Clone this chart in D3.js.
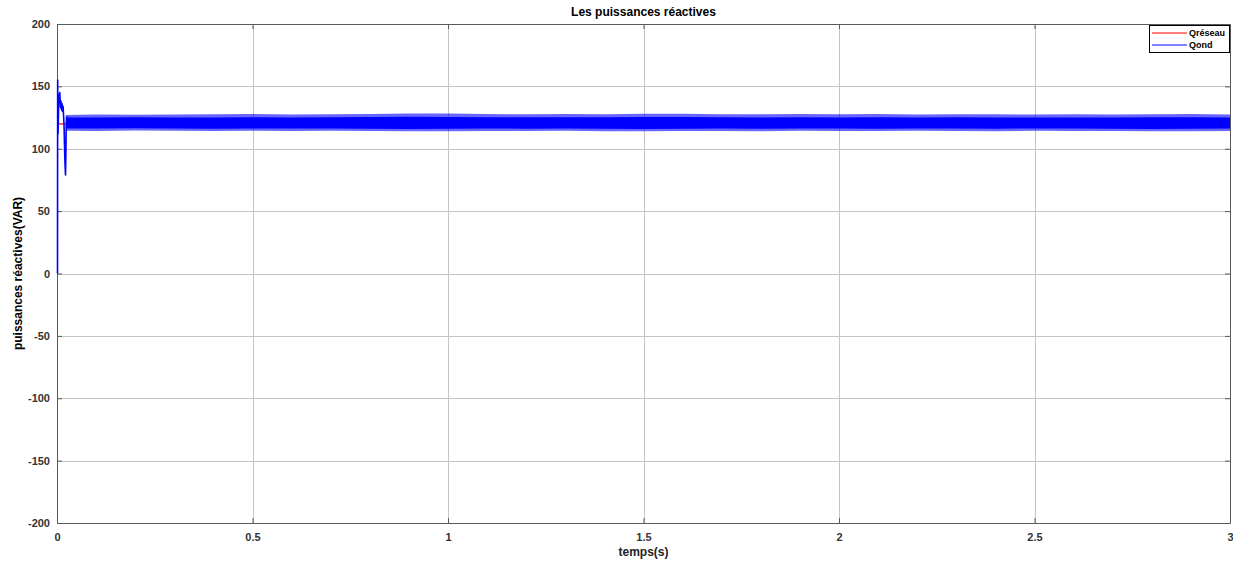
<!DOCTYPE html>
<html>
<head>
<meta charset="utf-8">
<script src="https://cdn.jsdelivr.net/npm/d3@7"></script>
<style>
  html, body { margin: 0; padding: 0; background: #fff; }
  svg { display: block; font-family: "Liberation Sans", Arial, sans-serif; }
</style>
</head>
<body>
<svg id="chart" width="1233" height="563"></svg>
<script>
// ---- data ----
const title = "Les puissances réactives";
const xLabel = "temps(s)";
const yLabel = "puissances réactives(VAR)";
const xTicks = [0, 0.5, 1, 1.5, 2, 2.5, 3];
const yTicks = [-200, -150, -100, -50, 0, 50, 100, 150, 200];
const seriesNames = ["Qréseau", "Qond"];

// Qréseau: reference reactive power (constant)
const qReseauT = [0, 3];
const qReseauV = [120, 120];

// Qond start-up transient
const transT = [0, 0.0004, 0.0008, 0.0014, 0.002, 0.003, 0.0045, 0.0058, 0.0066, 0.0078, 0.009, 0.0105, 0.0118, 0.013, 0.0142, 0.0155, 0.0168, 0.018, 0.0192, 0.0205, 0.0214, 0.0222, 0.0232];
const transV = [0, 155, 128, 112, 121, 137, 143, 145, 139, 133, 138, 131, 136, 130, 134, 127, 118, 102, 88, 79, 95, 118, 126];

// Qond steady-state ripple band: envelope
const bandT = [0.023, 0.1, 0.2, 0.3, 0.4, 0.5, 0.6, 0.7, 0.8, 0.9, 1.0, 1.1, 1.2, 1.3, 1.4, 1.5, 1.6, 1.7, 1.8, 1.9, 2.0, 2.1, 2.2, 2.3, 2.4, 2.5, 2.6, 2.7, 2.8, 2.9, 3.0];
const bandUpper = [127, 127.5, 127.3, 127.4, 127.6, 127.8, 127.4, 127.6, 127.9, 128.3, 128.2, 127.8, 127.7, 127.9, 127.6, 128.1, 128.0, 127.7, 127.6, 127.8, 127.6, 127.8, 127.5, 127.7, 127.6, 127.5, 127.6, 127.4, 127.7, 127.8, 127.5];
const bandLower = [114.5, 114.3, 114.6, 114.4, 114.2, 114.5, 114.3, 114.4, 114.2, 114.0, 114.1, 114.3, 114.2, 114.4, 114.1, 114.0, 114.2, 114.3, 114.1, 114.4, 114.3, 114.2, 114.4, 114.3, 114.1, 114.4, 114.3, 114.2, 114.0, 114.1, 114.3];
const coreUpper = [125, 125, 125.2, 125, 125.1, 125.2, 125, 125.2, 125.4, 125.6, 125.5, 125.3, 125.2, 125.3, 125.2, 125.5, 125.4, 125.2, 125.1, 125.3, 125.1, 125.3, 125.1, 125.2, 125.1, 125, 125.1, 125, 125.2, 125.3, 125];
const coreLower = [116.3, 116.2, 116.4, 116.3, 116.1, 116.3, 116.2, 116.3, 116.1, 115.9, 116, 116.2, 116.1, 116.2, 116, 115.9, 116.1, 116.2, 116, 116.3, 116.2, 116.1, 116.3, 116.2, 116, 116.3, 116.2, 116.1, 115.9, 116, 116.2];

// ---- layout ----
const svg = d3.select("#chart");
const m = { left: 57, right: 1230, top: 24, bottom: 523 };
const x = d3.scaleLinear().domain([0, 3]).range([m.left, m.right]);
const y = d3.scaleLinear().domain([-200, 200]).range([m.bottom, m.top]);
const pw = m.right - m.left, ph = m.bottom - m.top;

svg.append("rect").attr("x", m.left).attr("y", m.top).attr("width", pw).attr("height", ph).attr("fill", "#fff");

// grid
const g = svg.append("g");
g.selectAll(".gx").data(xTicks.slice(1, -1)).join("line")
  .attr("x1", d => Math.round(x(d)) + 0.5).attr("x2", d => Math.round(x(d)) + 0.5)
  .attr("y1", m.top).attr("y2", m.bottom).attr("stroke", "#c4c4c4").attr("stroke-width", 1);
g.selectAll(".gy").data(yTicks.slice(1, -1)).join("line")
  .attr("y1", d => Math.round(y(d)) + 0.5).attr("y2", d => Math.round(y(d)) + 0.5)
  .attr("x1", m.left).attr("x2", m.right).attr("stroke", "#c4c4c4").attr("stroke-width", 1);

// axes (MATLAB style: inward ticks, box)
const axisColor = "#5a5a5a";
const fontCol = "#333";
const fmt = d => String(d);
const xAxis = svg.append("g").attr("transform", `translate(0,${m.bottom})`)
  .call(d3.axisBottom(x).tickValues(xTicks).tickSizeInner(-5).tickSizeOuter(0).tickPadding(10).tickFormat(fmt));
const xAxisTop = svg.append("g").attr("transform", `translate(0,${m.top})`)
  .call(d3.axisTop(x).tickValues(xTicks).tickSizeInner(-5).tickSizeOuter(0).tickFormat(""));
const yAxis = svg.append("g").attr("transform", `translate(${m.left},0)`)
  .call(d3.axisLeft(y).tickValues(yTicks).tickSizeInner(-5).tickSizeOuter(0).tickPadding(7).tickFormat(fmt));
const yAxisRight = svg.append("g").attr("transform", `translate(${m.right},0)`)
  .call(d3.axisRight(y).tickValues(yTicks).tickSizeInner(-5).tickSizeOuter(0).tickFormat(""));
[xAxis, xAxisTop, yAxis, yAxisRight].forEach(a => {
  a.select(".domain").attr("stroke", axisColor);
  a.selectAll(".tick line").attr("stroke", axisColor);
  a.selectAll("text").attr("fill", fontCol).attr("font-size", 11).attr("font-weight", "bold")
    .attr("font-family", "Liberation Sans, Arial, sans-serif");
});
yAxis.selectAll("text").attr("dy", "0.32em");

// clip
svg.append("clipPath").attr("id", "clip").append("rect")
  .attr("x", m.left - 2).attr("y", m.top).attr("width", pw + 2).attr("height", ph);
const plot = svg.append("g").attr("clip-path", "url(#clip)");

// Qréseau
plot.append("path")
  .datum(qReseauT.map((t, i) => [t, qReseauV[i]]))
  .attr("fill", "none").attr("stroke", "#ff0000").attr("stroke-width", 1.2)
  .attr("d", d3.line().x(d => x(d[0])).y(d => y(d[1])));

// Qond band (outer fuzzy + core)
const bandData = bandT.map((t, i) => ({ t, u: bandUpper[i], l: bandLower[i], cu: coreUpper[i], cl: coreLower[i] }));
plot.append("path").datum(bandData)
  .attr("fill", "#0000ff").attr("fill-opacity", 0.6)
  .attr("d", d3.area().x(d => x(d.t)).y0(d => y(d.l)).y1(d => y(d.u)));
plot.append("path").datum(bandData)
  .attr("fill", "#0000ff")
  .attr("d", d3.area().x(d => x(d.t)).y0(d => y(d.cl)).y1(d => y(d.cu)));

// Qond transient
plot.append("path")
  .datum(transT.map((t, i) => [t, transV[i]]))
  .attr("fill", "none").attr("stroke", "#0000ff").attr("stroke-width", 1.6).attr("stroke-linejoin", "round")
  .attr("d", d3.line().x(d => x(d[0]) + 0.5).y(d => y(d[1])));

// titles
svg.append("text").attr("x", (m.left + m.right) / 2).attr("y", 16).attr("text-anchor", "middle")
  .attr("font-size", 12).attr("font-weight", "bold").attr("fill", "#000").text(title);
svg.append("text").attr("x", (m.left + m.right) / 2).attr("y", 556).attr("text-anchor", "middle")
  .attr("font-size", 12).attr("font-weight", "bold").attr("fill", "#222").text(xLabel);
svg.append("text").attr("transform", `translate(22,${(m.top + m.bottom) / 2}) rotate(-90)`).attr("text-anchor", "middle")
  .attr("font-size", 12).attr("font-weight", "bold").attr("fill", "#000").text(yLabel);

// legend
const lg = svg.append("g").attr("transform", "translate(1149,25)");
lg.append("rect").attr("x", 0.5).attr("y", 0.5).attr("width", 80).attr("height", 27)
  .attr("fill", "#fff").attr("stroke", "#000").attr("stroke-width", 1);
const legColors = ["#ff0000", "#0000ff"];
seriesNames.forEach((n, i) => {
  const yy = 8 + i * 12;
  lg.append("line").attr("x1", 3).attr("x2", 38).attr("y1", yy).attr("y2", yy)
    .attr("stroke", legColors[i]).attr("stroke-width", 1.2);
  lg.append("text").attr("x", 40).attr("y", yy).attr("dy", "0.35em")
    .attr("font-size", 9).attr("font-weight", "bold").attr("fill", "#000").text(n);
});
</script>
</body>
</html>
